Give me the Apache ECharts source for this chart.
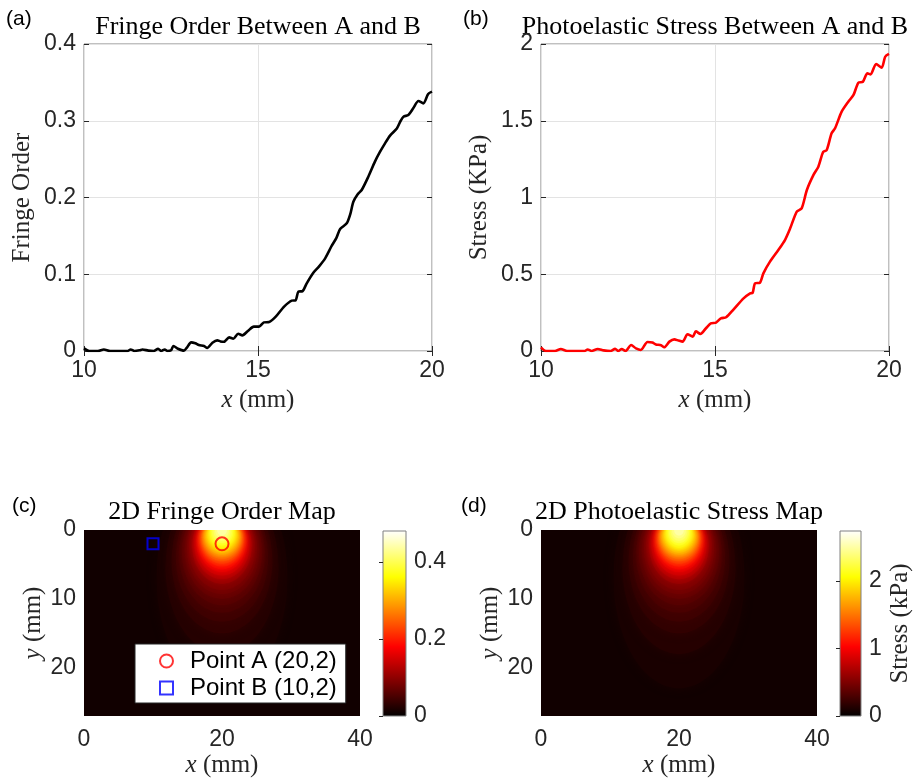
<!DOCTYPE html>
<html><head><meta charset="utf-8">
<script src="https://cdn.jsdelivr.net/npm/echarts@6/dist/echarts.min.js"></script>
<style>html,body{margin:0;padding:0;background:#fff;}#c{width:914px;height:781px;}</style>
</head><body><div id="c"></div>
<script>
// ---- data ----
const fringeX = [10.00,10.15,10.40,10.57,10.75,11.00,11.25,11.34,11.45,11.60,11.68,11.85,12.00,12.13,12.22,12.32,12.40,12.50,12.57,12.70,12.87,12.95,13.08,13.20,13.30,13.45,13.54,13.69,13.83,13.92,14.02,14.17,14.29,14.43,14.55,14.71,14.88,15.03,15.17,15.32,15.51,15.75,15.97,16.08,16.16,16.28,16.40,16.59,16.75,16.93,17.12,17.25,17.36,17.55,17.65,17.74,17.86,17.98,18.17,18.36,18.50,18.65,18.80,18.99,19.10,19.18,19.32,19.46,19.61,19.75,19.89,20.00];
const fringeY = [0.0035,0,0,0.002,0,0,0,0.002,0,0.001,0.002,0.0005,0,0.003,0,0.002,0,0.001,0.0065,0.003,0.0005,0.004,0.0113,0.010,0.0078,0.0065,0.004,0.0108,0.0139,0.0125,0.012,0.0178,0.016,0.0225,0.0204,0.0261,0.0317,0.0317,0.0373,0.0378,0.0447,0.0578,0.0656,0.066,0.0773,0.078,0.0882,0.102,0.110,0.1207,0.1372,0.147,0.159,0.1663,0.178,0.1945,0.204,0.2098,0.2271,0.2467,0.259,0.2706,0.281,0.290,0.300,0.3053,0.3075,0.3162,0.3257,0.3227,0.3349,0.3379];
const stressX = [10.00,10.14,10.40,10.57,10.75,11.00,11.25,11.34,11.45,11.63,11.80,12.00,12.13,12.22,12.32,12.43,12.59,12.73,12.87,13.06,13.20,13.30,13.45,13.54,13.69,13.83,13.95,14.07,14.21,14.36,14.45,14.58,14.74,14.88,15.03,15.17,15.32,15.53,15.82,16.01,16.08,16.15,16.29,16.39,16.58,16.82,17.01,17.16,17.35,17.49,17.64,17.83,17.97,18.11,18.21,18.35,18.45,18.64,18.83,18.98,19.12,19.25,19.38,19.47,19.63,19.79,19.89,20.00];
const stressY = [0.024,0,0,0.013,0,0,0,0.010,0,0.013,0.004,0,0.015,0,0.013,0,0.039,0.017,0.007,0.059,0.055,0.043,0.037,0.024,0.061,0.076,0.068,0.061,0.109,0.093,0.128,0.111,0.148,0.180,0.185,0.213,0.220,0.270,0.343,0.376,0.378,0.441,0.445,0.506,0.582,0.658,0.723,0.799,0.908,0.929,1.049,1.147,1.201,1.298,1.309,1.418,1.451,1.559,1.624,1.668,1.748,1.754,1.809,1.802,1.870,1.846,1.917,1.935];

// 2D maps: iso-level contours (ellipses around the load point, in mm)
const loadX = 20;
const contourStress = [0.1,0.15,0.2,0.25,0.3,0.35,0.4,0.45,0.5,0.6,0.7,0.8,0.9,1.0,1.1,1.2,1.3,1.4,1.5,1.6,1.7,1.8,1.9,2.0,2.1,2.2,2.3,2.4,2.5];
const contourFringe = [0.0175,0.0262,0.035,0.0437,0.0524,0.0612,0.0699,0.0787,0.0874,0.1049,0.1224,0.1399,0.1573,0.1748,0.1923,0.2098,0.2273,0.2448,0.2622,0.2797,0.2972,0.3147,0.3322,0.3497,0.3671,0.3846,0.4021,0.4196,0.4371];
const contourCenterY = [6.9,5.4,4.5,4.0,3.6,3.27,3.0,2.79,2.61,2.34,2.15,1.98,1.83,1.71,1.59,1.47,1.37,1.26,1.17,1.0,0.8,0.6,0.4,0.2,0,0,0,0,0];
const contourRadiusX = [9.5,8.2,7.3,6.7,6.2,5.8,5.4,5.1,4.8,4.3,4.0,3.7,3.45,3.2,3.05,2.9,2.78,2.65,2.5,2.35,2.22,2.1,1.98,1.85,1.68,1.5,1.25,1.0,0.7];
const contourRadiusY = [16.1,12.6,10.5,9.3,8.4,7.63,7.0,6.51,6.09,5.46,5.0,4.62,4.27,3.99,3.71,3.43,3.18,2.94,2.73,2.6,2.5,2.4,2.4,2.4,2.25,1.9,1.55,1.2,0.8];
const backgroundFringe = 0.012;
const backgroundStress = 0.07;
const fringeColorMax = 0.48;
const stressColorMax = 2.74;
const pointA = [20, 2];
const pointB = [10, 2];
const mapWidth = 40, mapHeight = 27;

// ---- styling helpers ----
const SANS = "'Liberation Sans', Arial, sans-serif";
const SERIF = "'Liberation Serif', 'Times New Roman', serif";
const TXT = '#262626';
function clamp(v){return Math.max(0, Math.min(1, v));}
function hotColor(t){
  t = clamp(t);
  const r = clamp(t/0.375), g = clamp((t-0.375)/0.375), b = clamp((t-0.75)/0.25);
  return 'rgb(' + Math.round(r*255) + ',' + Math.round(g*255) + ',' + Math.round(b*255) + ')';
}
function zip(a, b){return a.map((v, i) => [v, b[i]]);}
function contourData(values){return values.map((v, i) => [loadX, contourCenterY[i], contourRadiusX[i], contourRadiusY[i], v]);}

function mapRender(maxVal){
  return function(params, api){
    const c = api.coord([api.value(0), api.value(1)]);
    const s = api.size([api.value(2), api.value(3)]);
    const cs = params.coordSys;
    const pts = [];
    for (let k = 0; k < 120; k++){
      const a = k / 120 * 2 * Math.PI;
      let x = c[0] + s[0] * Math.cos(a), y = c[1] + s[1] * Math.sin(a);
      x = Math.min(Math.max(x, cs.x), cs.x + cs.width);
      y = Math.min(Math.max(y, cs.y), cs.y + cs.height);
      pts.push([x, y]);
    }
    const col = hotColor(api.value(4) / maxVal);
    return {type: 'polygon', shape: {points: pts}, silent: true,
      style: {fill: col, shadowBlur: 9, shadowColor: col}};
  };
}
function colorbarRender(params, api){
  const p0 = api.coord([0, api.value(0)]);
  const p1 = api.coord([1, api.value(1)]);
  return {type: 'rect', shape: {x: p0[0], y: p1[1], width: p1[0]-p0[0], height: p0[1]-p1[1]},
    style: {fill: new echarts.graphic.LinearGradient(0, 1, 0, 0, [
      {offset: 0, color: '#000000'}, {offset: 0.375, color: '#ff0000'},
      {offset: 0.75, color: '#ffff00'}, {offset: 1, color: '#ffffff'}]),
      stroke: '#808080', lineWidth: 1}};
}

const lbl = {fontFamily: SANS, fontSize: 23, color: TXT};
const tick = {inside: true, length: 5, lineStyle: {color: TXT, width: 1}};
const nameStyle = {fontFamily: SERIF, fontSize: 25, color: TXT,
  rich: {i: {fontFamily: SERIF, fontSize: 25, fontStyle: 'italic', color: TXT}}};
const split = {show: true, lineStyle: {color: '#e3e3e3', width: 1}};

function lineX(grid, show){
  return show ? {type: 'value', gridIndex: grid, min: 10, max: 20, interval: 5, axisLine: {show: false},
      axisTick: tick, axisLabel: Object.assign({margin: 8}, lbl), splitLine: split,
      name: '{i|x} (mm)', nameLocation: 'middle', nameGap: 37, nameTextStyle: nameStyle}
    : {type: 'value', gridIndex: grid, position: 'top', min: 10, max: 20, interval: 5, axisLine: {show: false},
      axisTick: tick, axisLabel: {show: false}, splitLine: {show: false}};
}
function lineY(grid, max, interval, name, show){
  return show ? {type: 'value', gridIndex: grid, min: 0, max: max, interval: interval, axisLine: {show: false},
      axisTick: tick, axisLabel: Object.assign({margin: 8}, lbl), splitLine: split,
      name: name, nameLocation: 'middle', nameGap: 49, nameTextStyle: nameStyle}
    : {type: 'value', gridIndex: grid, position: 'right', min: 0, max: max, interval: interval, axisLine: {show: false},
      axisTick: tick, axisLabel: {show: false}, splitLine: {show: false}};
}
function mapX(grid){
  return {type: 'value', gridIndex: grid, min: 0, max: mapWidth, interval: 20, axisLine: {show: false},
    axisTick: {show: false}, axisLabel: Object.assign({margin: 12}, lbl), splitLine: {show: false},
    name: '{i|x} (mm)', nameLocation: 'middle', nameGap: 37, nameTextStyle: nameStyle};
}
function mapY(grid){
  return {type: 'value', gridIndex: grid, min: 0, max: mapHeight, interval: 10, inverse: true, axisLine: {show: false},
    axisTick: {show: false}, axisLabel: Object.assign({margin: 8, formatter: v => (v % 10 === 0 ? String(v) : '')}, lbl),
    splitLine: {show: false},
    name: '{i|y} (mm)', nameLocation: 'middle', nameGap: 38, nameTextStyle: nameStyle};
}
function cbarY(grid, max, interval, name){
  const o = {type: 'value', gridIndex: grid, position: 'right', min: 0, max: max, interval: interval, z: 5,
    axisLine: {show: false}, axisTick: {inside: true, length: 4, lineStyle: {color: TXT}},
    axisLabel: Object.assign({margin: 8, showMaxLabel: false, formatter: v => (Math.abs(v / interval - Math.round(v / interval)) < 1e-6 ? String(+v.toFixed(2)) : '')}, lbl),
    splitLine: {show: false}};
  if (name){ o.name = name; o.nameLocation = 'middle'; o.nameGap = 27; o.nameTextStyle = nameStyle; }
  return o;
}

function gtext(x, y, text, font){
  return {type: 'text', x: x, y: y, silent: true,
    style: {text: text, font: font, fill: '#000', align: 'center', verticalAlign: 'middle', textAlign: 'center', textVerticalAlign: 'middle'}};
}
function glabel(x, y, text){
  return {type: 'text', x: x, y: y, silent: true,
    style: {text: text, font: '21px ' + SANS, fill: '#000', align: 'left', verticalAlign: 'middle', textAlign: 'left', textVerticalAlign: 'middle'}};
}

const option = {
  animation: false,
  backgroundColor: '#fff',
  grid: [
    {left: 84, top: 44, width: 348, height: 307, show: true, borderColor: '#808080', borderWidth: 1, backgroundColor: '#fff'},
    {left: 541, top: 44, width: 348, height: 307, show: true, borderColor: '#808080', borderWidth: 1, backgroundColor: '#fff'},
    {left: 84, top: 530, width: 276, height: 186, show: true, borderWidth: 0, backgroundColor: hotColor(backgroundFringe / fringeColorMax)},
    {left: 541, top: 530, width: 276, height: 186, show: true, borderWidth: 0, backgroundColor: hotColor(backgroundStress / stressColorMax)},
    {left: 383, top: 531, width: 23, height: 185},
    {left: 840, top: 531, width: 22, height: 185}
  ],
  xAxis: [
    lineX(0, true), lineX(0, false), lineX(1, true), lineX(1, false),
    mapX(2), mapX(3),
    {type: 'value', gridIndex: 4, min: 0, max: 1, show: false},
    {type: 'value', gridIndex: 5, min: 0, max: 1, show: false}
  ],
  yAxis: [
    lineY(0, 0.4, 0.1, 'Fringe Order', true), lineY(0, 0.4, 0.1, '', false),
    lineY(1, 2, 0.5, 'Stress (KPa)', true), lineY(1, 2, 0.5, '', false),
    mapY(2), mapY(3),
    cbarY(4, fringeColorMax, 0.2, ''),
    cbarY(5, stressColorMax, 1, 'Stress (kPa)')
  ],
  legend: {
    left: 135, top: 644, orient: 'vertical', selectedMode: false,
    padding: [5, 9, 3, 24], itemGap: 3, itemWidth: 13, itemHeight: 13,
    backgroundColor: '#fff', borderColor: TXT, borderWidth: 1, borderRadius: 0,
    textStyle: {fontFamily: SANS, fontSize: 24, color: '#000', lineHeight: 24, padding: [0, 0, 0, 12]},
    data: [
      {name: 'Point A (20,2)', icon: 'circle', itemStyle: {color: 'rgba(0,0,0,0)', borderColor: '#ff0000', borderWidth: 2}},
      {name: 'Point B (10,2)', icon: 'rect', itemStyle: {color: 'rgba(0,0,0,0)', borderColor: '#0000ff', borderWidth: 2}}
    ]
  },
  series: [
    {type: 'line', xAxisIndex: 0, yAxisIndex: 0, data: zip(fringeX, fringeY), showSymbol: false, smooth: 0.25,
      lineStyle: {color: '#000', width: 2.6}, itemStyle: {color: '#000'}, z: 3},
    {type: 'line', xAxisIndex: 2, yAxisIndex: 2, data: zip(stressX, stressY), showSymbol: false, smooth: 0.25,
      lineStyle: {color: '#ff0000', width: 2.6}, itemStyle: {color: '#ff0000'}, z: 3},
    {type: 'custom', xAxisIndex: 4, yAxisIndex: 4, data: contourData(contourFringe), renderItem: mapRender(fringeColorMax), clip: true, silent: true, z: 1},
    {type: 'custom', xAxisIndex: 5, yAxisIndex: 5, data: contourData(contourStress), renderItem: mapRender(stressColorMax), clip: true, silent: true, z: 1},
    {type: 'scatter', name: 'Point A (20,2)', xAxisIndex: 4, yAxisIndex: 4, data: [pointA], symbol: 'circle', symbolSize: 13,
      itemStyle: {color: 'rgba(0,0,0,0)', borderColor: '#ff0000', borderWidth: 2}, z: 4},
    {type: 'scatter', name: 'Point B (10,2)', xAxisIndex: 4, yAxisIndex: 4, data: [pointB], symbol: 'rect', symbolSize: 11,
      itemStyle: {color: 'rgba(0,0,0,0)', borderColor: '#0000ff', borderWidth: 2}, z: 4},
    {type: 'custom', xAxisIndex: 6, yAxisIndex: 6, data: [[0, fringeColorMax]], renderItem: colorbarRender, silent: true, z: 1},
    {type: 'custom', xAxisIndex: 7, yAxisIndex: 7, data: [[0, stressColorMax]], renderItem: colorbarRender, silent: true, z: 1}
  ],
  graphic: [
    gtext(258, 27, 'Fringe Order Between A and B', '26px ' + SERIF),
    gtext(715, 27, 'Photoelastic Stress Between A and B', '26px ' + SERIF),
    gtext(222, 512, '2D Fringe Order Map', '26px ' + SERIF),
    gtext(679, 512, '2D Photoelastic Stress Map', '26px ' + SERIF),
    glabel(6, 19, '(a)'), glabel(463, 19, '(b)'), glabel(12, 506, '(c)'), glabel(461, 506, '(d)')
  ]
};
const chart = echarts.init(document.getElementById('c'), null, {renderer: 'canvas'});
chart.setOption(option);
</script>
</body></html>
